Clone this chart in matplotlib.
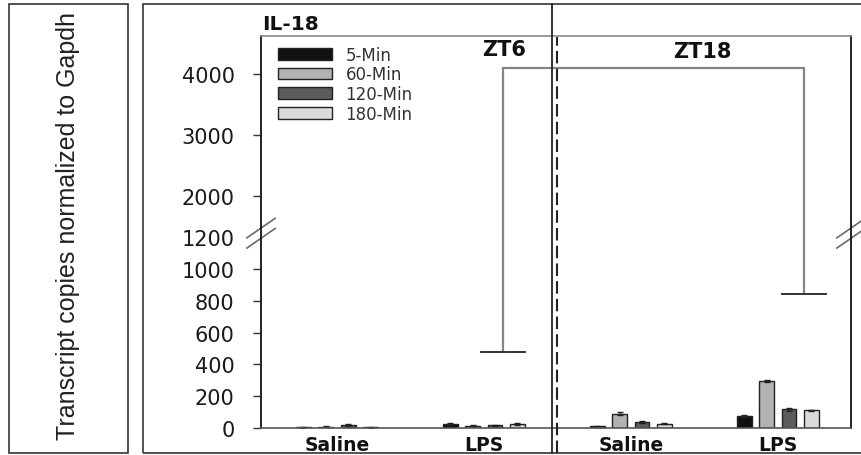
import numpy as np
import matplotlib
matplotlib.use("Agg")
import matplotlib.pyplot as plt
from matplotlib import font_manager
from matplotlib.lines import Line2D
from matplotlib.patches import Rectangle
from matplotlib.transforms import blended_transform_factory

# IL-18 transcript copies, one list per time point,
# ordered ZT6 Saline, ZT6 LPS, ZT18 Saline, ZT18 LPS
groups = ["Saline", "LPS", "Saline", "LPS"]
min5 = [6, 25, 12, 75]
min60 = [8, 15, 90, 295]
min120 = [20, 18, 38, 118]
min180 = [5, 25, 28, 112]
err5 = [3, 5, 3, 4]
err60 = [4, 4, 8, 6]
err120 = [5, 4, 6, 8]
err180 = [2, 5, 3, 4]
series_labels = ["5-Min", "60-Min", "120-Min", "180-Min"]
bar_colors = ["#111111", "#b2b2b2", "#5c5c5c", "#dadada"]

yticks = [0, 200, 400, 600, 800, 1000, 1200, 2000, 3000, 4000]
bracket_top = 4100
bracket_left = 480
bracket_right = 840

# broken y axis: linear up to 1200, compressed above 1500
U_1500 = 1267.0
UPPER_RATIO = 0.384


def fwd(v):
    v = np.asarray(v, dtype=float)
    mid = 1200 + (v - 1200) * (U_1500 - 1200) / 300.0
    up = U_1500 + (v - 1500) * UPPER_RATIO
    return np.where(v <= 1200, v, np.where(v <= 1500, mid, up))


def inv(u):
    u = np.asarray(u, dtype=float)
    mid = 1200 + (u - 1200) * 300.0 / (U_1500 - 1200)
    up = 1500 + (u - U_1500) / UPPER_RATIO
    return np.where(u <= 1200, u, np.where(u <= U_1500, mid, up))


def pick_label_font():
    names = {f.name for f in font_manager.fontManager.ttflist}
    if "Liberation Sans Narrow" in names:
        return "Liberation Sans Narrow", 22
    if "Liberation Sans" in names:
        return "Liberation Sans", 18
    return "DejaVu Sans", 16


def main():
    fig = plt.figure(figsize=(8.61, 4.56), dpi=100)
    ax = fig.add_axes([261 / 861, 27 / 456, 590 / 861, 392 / 456])

    ax.set_yscale("function", functions=(fwd, inv))
    ax.set_ylim(0, 4620)
    ax.set_xlim(-0.517, 3.497)

    x = np.arange(len(groups))
    offsets = (np.arange(4) - 1.5) * 0.152
    values = [min5, min60, min120, min180]
    errors = [err5, err60, err120, err180]
    handles = []
    for i in range(4):
        b = ax.bar(x + offsets[i], values[i], width=0.1, color=bar_colors[i],
                   edgecolor="#222222", linewidth=1.0, yerr=errors[i],
                   capsize=2.5, error_kw=dict(lw=1.0, ecolor="#222222"),
                   label=series_labels[i])
        handles.append(b)

    # significance bracket between ZT6 LPS and ZT18 LPS
    xl, xr = 1.13, 3.177
    ax.plot([xl, xl, xr, xr], [bracket_left, bracket_top, bracket_top, bracket_right],
            color="#858585", lw=1.6, solid_joinstyle="miter", clip_on=False)
    ax.plot([xl - 0.15, xl + 0.15], [bracket_left, bracket_left], color="#333333", lw=1.4)
    ax.plot([xr - 0.15, xr + 0.15], [bracket_right, bracket_right], color="#333333", lw=1.4)

    # axes styling
    for side in ["left", "right"]:
        ax.spines[side].set_color("#111111")
        ax.spines[side].set_linewidth(1.3)
    ax.spines["top"].set_color("#8a8a8a")
    ax.spines["top"].set_linewidth(1.2)
    ax.spines["bottom"].set_color("#555555")
    ax.spines["bottom"].set_linewidth(1.2)

    ax.set_yticks(yticks)
    ax.set_yticklabels([str(t) for t in yticks])
    ax.tick_params(axis="y", direction="out", length=6, width=1.0, color="#333333",
                   pad=13, labelsize=15, labelcolor="#1a1a1a")
    for tick, val in zip(ax.yaxis.get_major_ticks(), yticks):
        if val == 1200:
            tick.tick1line.set_visible(False)

    ax.set_xticks(x)
    ax.set_xticklabels(groups, fontsize=13.5, fontweight="bold", color="#111111")
    ax.tick_params(axis="x", length=0, pad=5)

    # break marks on both vertical spines
    for xa in (0.0, 1.0):
        for dy in (-0.013, 0.013):
            ax.plot([xa - 0.024, xa + 0.024], [0.497 + dy - 0.025, 0.497 + dy + 0.025],
                    transform=ax.transAxes, color="#6a6a6a", lw=1.2, clip_on=False)

    ax.legend(handles=handles, loc="upper left", bbox_to_anchor=(0.029, 0.975),
              frameon=False, fontsize=12, handlelength=3.25, handleheight=0.7,
              handletextpad=0.8, labelspacing=0.1, borderpad=0, borderaxespad=0,
              labelcolor="#333333")

    # ZT6 / ZT18 panel labels and divider lines
    ax.text(1.136, 0.967, "ZT6", transform=ax.get_xaxis_transform(), ha="center",
            va="center", fontsize=15, fontweight="bold", color="#111111")
    ax.text(2.483, 0.962, "ZT18", transform=ax.get_xaxis_transform(), ha="center",
            va="center", fontsize=15, fontweight="bold", color="#111111")

    xfig = blended_transform_factory(ax.transData, fig.transFigure)
    fig.add_artist(Line2D([1.463, 1.463], [2 / 456, 451 / 456], transform=xfig,
                          color="#222222", lw=1.3))
    fig.add_artist(Line2D([1.50, 1.50], [2 / 456, 418 / 456], transform=xfig,
                          color="#222222", lw=1.5, linestyle=(0, (6, 2.5))))

    fig.text(262 / 861, 1 - 30 / 456, "IL-18", ha="left", va="baseline",
             fontsize=14.5, fontweight="bold", color="#111111")

    # outer boxes: y label panel and chart panel
    fig.add_artist(Rectangle((9 / 861, 2 / 456), 119 / 861, 449 / 456,
                             transform=fig.transFigure, fill=False,
                             edgecolor="#333333", lw=1.2))
    fig.add_artist(Rectangle((143 / 861, 2 / 456), 730 / 861, 449 / 456,
                             transform=fig.transFigure, fill=False,
                             edgecolor="#333333", lw=1.2))

    family, size = pick_label_font()
    fig.text(68.5 / 861, 0.505, "Transcript copies normalized to Gapdh",
             rotation=90, ha="center", va="center", family=family,
             fontsize=size, color="#222222")

    fig.savefig("out.png", dpi=100)


if __name__ == "__main__":
    main()
